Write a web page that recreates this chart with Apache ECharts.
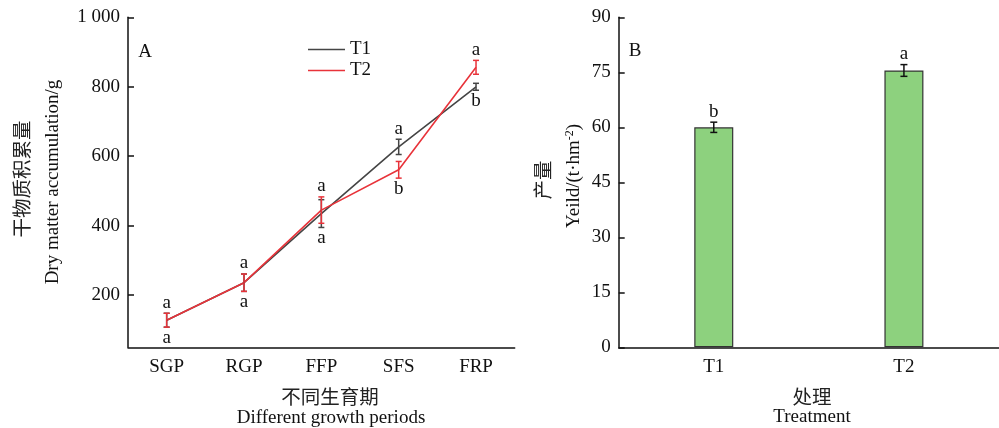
<!DOCTYPE html>
<html><head><meta charset="utf-8">
<script src="https://cdn.jsdelivr.net/npm/echarts@6/dist/echarts.min.js"></script>
<style>html,body{margin:0;padding:0;background:#fff}#c{width:999px;height:428px}</style>
</head><body><div id="c"></div>
<script>
// ---- data ----
const periods = ['SGP', 'RGP', 'FFP', 'SFS', 'FRP'];
const t1Values = [128, 236, 435, 627, 800];
const t1Err = [20, 25, 40, 22, 10];
const t1Letters = ['a', 'a', 'a', 'a', 'b'];
const t1LetterPos = ['bottom', 'bottom', 'bottom', 'top', 'bottom'];
const t2Values = [128, 236, 445, 561, 856];
const t2Err = [20, 25, 38, 24, 20];
const t2Letters = ['a', 'a', 'a', 'b', 'a'];
const t2LetterPos = ['top', 'top', 'top', 'bottom', 'top'];
const leftTicks = [200, 400, 600, 800, 1000];

const treatments = ['T1', 'T2'];
const yieldValues = [60.0, 75.5];
const yieldErr = [1.4, 1.6];
const yieldLetters = ['b', 'a'];
const rightTicks = [0, 15, 30, 45, 60, 75, 90];

// ---- style ----
const SERIF = '"Liberation Serif", "Noto Sans CJK SC", serif';
const FS = 19;
const C_T1 = '#454545';
const C_T2 = '#e8333a';
const C_BAR = '#8dd17e';
const AX = '#111';

function errItem(vals, errs, letters, pos, color, capHalf) {
  return function (params, api) {
    const i = params.dataIndex;
    const x = api.value(0), v = api.value(1), e = api.value(2);
    const top = api.coord([x, v + e]);
    const bot = api.coord([x, v - e]);
    const style = { stroke: color, lineWidth: 1.5 };
    const children = [
      { type: 'line', shape: { x1: top[0], y1: top[1], x2: bot[0], y2: bot[1] }, style },
      { type: 'line', shape: { x1: top[0] - capHalf, y1: top[1], x2: top[0] + capHalf, y2: top[1] }, style },
      { type: 'line', shape: { x1: bot[0] - capHalf, y1: bot[1], x2: bot[0] + capHalf, y2: bot[1] }, style }
    ];
    const p = pos ? pos[i] : 'top';
    children.push({
      type: 'text',
      style: {
        text: letters[i], x: top[0], y: p === 'top' ? top[1] - 1 : bot[1] + 1,
        align: 'center', verticalAlign: p === 'top' ? 'bottom' : 'top',
        font: FS + 'px ' + SERIF, fill: '#111'
      }
    });
    return { type: 'group', children };
  };
}

const chart = echarts.init(document.getElementById('c'), null, { renderer: 'canvas' });
chart.setOption({
  animation: false,
  backgroundColor: '#fff',
  textStyle: { fontFamily: SERIF },
  grid: [
    { left: 128, top: 17.3, width: 386.7, height: 330 },
    { left: 618.7, top: 17.3, width: 386.7, height: 330 }
  ],
  legend: {
    data: ['T1', 'T2'], orient: 'vertical', left: 308, top: 40, padding: 0,
    icon: 'rect', itemWidth: 37, itemHeight: 1.6, itemGap: 2,
    textStyle: { fontFamily: SERIF, fontSize: FS, color: '#111', lineHeight: 18 }
  },
  xAxis: [
    {
      type: 'category', gridIndex: 0, data: periods, boundaryGap: true,
      axisLine: { lineStyle: { color: AX, width: 1.5 } },
      axisTick: { alignWithLabel: true, inside: true, length: 6, lineStyle: { color: AX, width: 1.5 } },
      axisLabel: { color: '#111', fontSize: FS, fontFamily: SERIF, margin: 10 }
    },
    {
      type: 'category', gridIndex: 1, data: treatments, boundaryGap: true,
      axisLine: { lineStyle: { color: AX, width: 1.5 } },
      axisTick: { alignWithLabel: true, inside: true, length: 6, lineStyle: { color: AX, width: 1.5 } },
      axisLabel: { color: '#111', fontSize: FS, fontFamily: SERIF, margin: 10 }
    }
  ],
  yAxis: [
    {
      type: 'value', gridIndex: 0, min: 50, max: 1000,
      splitLine: { show: false },
      axisLine: { show: true, lineStyle: { color: AX, width: 1.5 } },
      axisTick: { show: true, inside: true, length: 6, customValues: leftTicks, lineStyle: { color: AX, width: 1.5 } },
      axisLabel: {
        customValues: leftTicks, color: '#111', fontSize: FS, fontFamily: SERIF, margin: 8,
        formatter: v => v >= 1000 ? String(v).replace(/(\d)(\d{3})$/, '$1 $2') : String(v)
      }
    },
    {
      type: 'value', gridIndex: 1, min: 0, max: 90, interval: 15,
      splitLine: { show: false },
      axisLine: { show: true, lineStyle: { color: AX, width: 1.5 } },
      axisTick: { show: true, inside: true, length: 6, lineStyle: { color: AX, width: 1.5 } },
      axisLabel: { color: '#111', fontSize: FS, fontFamily: SERIF, margin: 8 }
    }
  ],
  series: [
    {
      name: 'T1', type: 'line', xAxisIndex: 0, yAxisIndex: 0, data: t1Values,
      symbol: 'none', lineStyle: { color: C_T1, width: 1.6 }, itemStyle: { color: C_T1 }, z: 3
    },
    {
      name: 'T2', type: 'line', xAxisIndex: 0, yAxisIndex: 0, data: t2Values,
      symbol: 'none', lineStyle: { color: C_T2, width: 1.6 }, itemStyle: { color: C_T2 }, z: 4
    },
    {
      name: 'T1err', type: 'custom', xAxisIndex: 0, yAxisIndex: 0, z: 5,
      data: periods.map((p, i) => [i, t1Values[i], t1Err[i]]),
      renderItem: errItem(t1Values, t1Err, t1Letters, t1LetterPos, C_T1, 3)
    },
    {
      name: 'T2err', type: 'custom', xAxisIndex: 0, yAxisIndex: 0, z: 6,
      data: periods.map((p, i) => [i, t2Values[i], t2Err[i]]),
      renderItem: errItem(t2Values, t2Err, t2Letters, t2LetterPos, C_T2, 3)
    },
    {
      name: 'Yield', type: 'bar', xAxisIndex: 1, yAxisIndex: 1, data: yieldValues,
      barWidth: 39, itemStyle: { color: C_BAR, borderColor: '#333', borderWidth: 1.2 }, z: 2
    },
    {
      name: 'YieldErr', type: 'custom', xAxisIndex: 1, yAxisIndex: 1, z: 6,
      data: treatments.map((t, i) => [i, yieldValues[i], yieldErr[i]]),
      renderItem: errItem(yieldValues, yieldErr, yieldLetters, null, '#111', 3.5)
    }
  ],
  graphic: [
    { type: 'text', x: 145, y: 52, style: { text: 'A', font: FS + 'px ' + SERIF, fill: '#111', align: 'center', verticalAlign: 'middle' } },
    { type: 'text', x: 635, y: 51, style: { text: 'B', font: FS + 'px ' + SERIF, fill: '#111', align: 'center', verticalAlign: 'middle' } },
    { type: 'text', x: 22, y: 179, rotation: Math.PI / 2, style: { text: '干物质积累量', font: '19.5px "Noto Sans CJK SC"', fill: '#222', align: 'center', verticalAlign: 'middle' } },
    { type: 'text', x: 53, y: 182, rotation: Math.PI / 2, style: { text: 'Dry matter accumulation/g', font: FS + 'px ' + SERIF, fill: '#111', align: 'center', verticalAlign: 'middle' } },
    { type: 'text', x: 330, y: 397, style: { text: '不同生育期', font: '19.5px "Noto Sans CJK SC"', fill: '#222', align: 'center', verticalAlign: 'middle' } },
    { type: 'text', x: 331, y: 418, style: { text: 'Different growth periods', font: FS + 'px ' + SERIF, fill: '#111', align: 'center', verticalAlign: 'middle' } },
    { type: 'text', x: 543, y: 180, rotation: Math.PI / 2, style: { text: '产量', font: '19.5px "Noto Sans CJK SC"', fill: '#222', align: 'center', verticalAlign: 'middle' } },
    { type: 'text', x: 574, y: 176, rotation: Math.PI / 2, style: {
        text: '{n|Yeild/(t·hm}{s|-2}{n|)}', align: 'center', verticalAlign: 'middle',
        rich: { n: { font: FS + 'px ' + SERIF, fill: '#111', lineHeight: 20, verticalAlign: 'bottom' }, s: { font: '12px ' + SERIF, fill: '#111', lineHeight: 20, verticalAlign: 'top', padding: [0, 0, 3, 0] } }
      } },
    { type: 'text', x: 812, y: 397, style: { text: '处理', font: '19.5px "Noto Sans CJK SC"', fill: '#222', align: 'center', verticalAlign: 'middle' } },
    { type: 'text', x: 812, y: 417, style: { text: 'Treatment', font: FS + 'px ' + SERIF, fill: '#111', align: 'center', verticalAlign: 'middle' } }
  ]
});
</script></body></html>
